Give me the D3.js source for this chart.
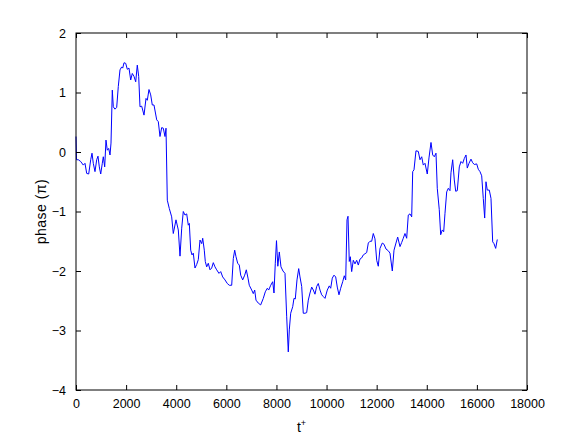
<!DOCTYPE html>
<html>
<head>
<meta charset="utf-8">
<script src="https://cdn.jsdelivr.net/npm/d3@7"></script>
<style>
	body { margin: 0; background: #fff; }
	svg text { font-family: "Liberation Sans", Arial, sans-serif; font-size: 12px; fill: #000; }
</style>
</head>
<body>
<div id="chart"></div>
<script>
var width = 582,
	height = 438;

var margin = { left: 76, right: 55, top: 33, bottom: 48 };

// t+ values
var tValues = [0, 20, 92, 188, 291, 359, 427, 507, 587, 639, 690, 758, 826, 878, 930, 986,
	1050, 1090, 1145, 1197, 1249, 1305, 1357, 1397, 1449, 1489, 1556, 1624, 1688, 1756, 1824, 1864,
	1916, 1984, 2047, 2115, 2183, 2247, 2315, 2383, 2446, 2502, 2554, 2622, 2714, 2794, 2846, 2913,
	2981, 3045, 3113, 3221, 3285, 3352, 3420, 3484, 3552, 3592, 3644, 3724, 3819, 3883, 3991, 4083,
	4151, 4219, 4282, 4350, 4418, 4482, 4522, 4578, 4630, 4681, 4749, 4817, 4881, 4949, 5017, 5057,
	5120, 5160, 5216, 5280, 5348, 5416, 5480, 5547, 5615, 5707, 5775, 5855, 5947, 6038, 6118, 6214,
	6278, 6334, 6386, 6453, 6517, 6573, 6653, 6733, 6797, 6865, 6916, 7012, 7076, 7132, 7184, 7276,
	7371, 7475, 7555, 7635, 7691, 7771, 7851, 7902, 7954, 8002, 8055, 8114, 8181, 8261, 8341, 8409,
	8473, 8513, 8569, 8649, 8700, 8752, 8820, 8888, 8940, 9008, 9071, 9139, 9207, 9271, 9339, 9407,
	9471, 9538, 9606, 9670, 9738, 9806, 9870, 9938, 10029, 10109, 10165, 10229, 10297, 10365, 10428, 10496,
	10564, 10644, 10708, 10764, 10816, 10856, 10907, 10947, 11003, 11067, 11135, 11203, 11267, 11334, 11402, 11466,
	11534, 11602, 11666, 11734, 11801, 11865, 11933, 12001, 12065, 12133, 12225, 12292, 12372, 12464, 12532, 12624,
	12692, 12771, 12839, 12931, 12999, 13062, 13130, 13198, 13262, 13330, 13398, 13438, 13490, 13569, 13661, 13729,
	13797, 13861, 13929, 14020, 14088, 14168, 14236, 14300, 14368, 14419, 14499, 14555, 14619, 14675, 14727, 14795,
	14859, 14926, 14966, 15034, 15098, 15154, 15218, 15298, 15365, 15433, 15497, 15565, 15617, 15685, 15764, 15832,
	15896, 15992, 16056, 16124, 16192, 16255, 16311, 16363, 16415, 16495, 16563, 16630, 16682, 16750, 16814];

// phase in units of pi
var phaseValues = [0.26, -0.13, -0.13, -0.16, -0.22, -0.19, -0.36, -0.37, -0.13, -0.02, -0.19, -0.33, -0.13, -0.07, -0.25, -0.37,
	-0.19, -0.08, -0.25, 0.20, 0.03, 0.06, -0.05, 0.15, 1.04, 0.76, 0.72, 0.75, 1.10, 1.38, 1.43, 1.41,
	1.50, 1.49, 1.39, 1.41, 1.21, 1.32, 1.27, 1.18, 1.46, 1.27, 0.76, 0.77, 0.62, 0.90, 0.87, 1.05,
	0.96, 0.79, 0.79, 0.54, 0.51, 0.26, 0.41, 0.40, 0.26, 0.40, -0.81, -0.95, -1.09, -1.37, -1.14, -1.31,
	-1.75, -1.28, -1.00, -1.06, -1.04, -1.23, -1.20, -1.65, -1.73, -1.70, -1.95, -1.89, -1.81, -1.48, -1.54, -1.45,
	-1.65, -1.84, -1.93, -1.87, -1.98, -1.95, -1.86, -1.93, -1.98, -2.04, -2.01, -2.10, -2.15, -2.21, -2.24, -2.24,
	-1.79, -1.65, -1.76, -1.87, -1.90, -2.07, -2.15, -2.07, -1.98, -2.12, -2.24, -2.32, -2.38, -2.32, -2.49, -2.54,
	-2.57, -2.46, -2.35, -2.29, -2.32, -2.24, -2.18, -2.37, -1.87, -1.49, -1.92, -1.68, -1.93, -2.00, -2.04, -2.77,
	-3.36, -2.99, -2.71, -2.60, -2.46, -2.47, -2.15, -1.96, -2.10, -2.26, -2.71, -2.71, -2.70, -2.49, -2.37, -2.27,
	-2.32, -2.39, -2.26, -2.21, -2.32, -2.40, -2.43, -2.46, -2.32, -2.25, -2.29, -2.12, -2.07, -2.10, -2.27, -2.40,
	-2.29, -2.18, -2.08, -2.15, -1.14, -1.08, -1.84, -1.76, -2.01, -1.82, -1.88, -1.82, -1.90, -1.80, -1.78, -1.73,
	-1.71, -1.69, -1.53, -1.50, -1.50, -1.37, -1.46, -1.82, -1.92, -1.62, -1.53, -1.55, -1.63, -1.66, -1.70, -2.00,
	-1.65, -1.53, -1.43, -1.59, -1.52, -1.45, -1.37, -1.45, -1.06, -1.04, -1.09, -0.33, -0.30, 0.02, 0.01, -0.13,
	-0.08, -0.22, -0.19, -0.37, -0.10, 0.16, -0.05, -0.08, -0.02, -0.61, -0.97, -1.39, -1.31, -1.34, -1.03, -0.67,
	-0.61, -0.65, -0.35, -0.13, -0.47, -0.66, -0.65, -0.25, -0.16, -0.19, -0.11, -0.05, -0.27, -0.19, -0.12, -0.18,
	-0.21, -0.20, -0.29, -0.33, -0.40, -0.78, -1.11, -0.50, -0.64, -0.64, -0.78, -1.51, -1.54, -1.62, -1.47];

var xTicks = [0, 2000, 4000, 6000, 8000, 10000, 12000, 14000, 16000, 18000];
var yTicks = [-4, -3, -2, -1, 0, 1, 2];

var svg = d3.select('#chart').append('svg')
	.attr('width', width)
	.attr('height', height);

var x = d3.scaleLinear()
	.domain([0, 18000])
	.range([margin.left, width - margin.right]);

var y = d3.scaleLinear()
	.domain([-4, 2])
	.range([height - margin.bottom, margin.top]);

var data = tValues.map(function(t, i) {
	return [t, phaseValues[i]];
});

// line
var line = d3.line()
	.x(function(d) { return x(d[0]); })
	.y(function(d) { return y(d[1]); });

svg.append('path')
	.datum(data)
	.attr('d', line)
	.style('fill', 'none')
	.style('stroke', '#0000ff')
	.style('stroke-width', 1)
	.style('stroke-linejoin', 'round');

// axes, matlab style: ticks inside on all four sides
var fmt = function(d) { return d < 0 ? '\u2212' + Math.abs(d) : String(d); };

svg.append('g')
	.attr('transform', 'translate(0,' + y(-4) + ')')
	.call(d3.axisBottom(x).tickValues(xTicks).tickSize(-5).tickPadding(9).tickFormat(fmt));

svg.append('g')
	.attr('transform', 'translate(0,' + y(2) + ')')
	.call(d3.axisTop(x).tickValues(xTicks).tickSize(-5).tickFormat(''));

svg.append('g')
	.attr('transform', 'translate(' + x(0) + ',0)')
	.call(d3.axisLeft(y).tickValues(yTicks).tickSize(-5).tickPadding(10).tickFormat(fmt));

svg.append('g')
	.attr('transform', 'translate(' + x(18000) + ',0)')
	.call(d3.axisRight(y).tickValues(yTicks).tickSize(-5).tickFormat(''));

svg.selectAll('.domain')
	.attr('d', null);

// box
svg.append('rect')
	.attr('x', x(0))
	.attr('y', y(2))
	.attr('width', x(18000) - x(0))
	.attr('height', y(-4) - y(2))
	.style('fill', 'none')
	.style('stroke', '#000')
	.style('stroke-width', 1);

svg.selectAll('.tick line')
	.style('stroke', '#000');

svg.selectAll('.tick text')
	.style('font-size', '12.5px')
	.style('font-family', '"Liberation Sans", Arial, sans-serif');

// labels
var xl = svg.append('text')
	.attr('x', (x(0) + x(18000)) / 2)
	.attr('y', 432)
	.attr('text-anchor', 'middle')
	.style('font-size', '14px');
xl.append('tspan').text('t');
xl.append('tspan').attr('dy', -6).style('font-size', '9px').text('+');

svg.append('text')
	.attr('transform', 'translate(46,' + (y(-4) + y(2)) / 2 + ') rotate(-90)')
	.attr('text-anchor', 'middle')
	.style('font-size', '14px')
	.style('letter-spacing', '0.5px')
	.text('phase (\u03c0)');
</script>
</body>
</html>
